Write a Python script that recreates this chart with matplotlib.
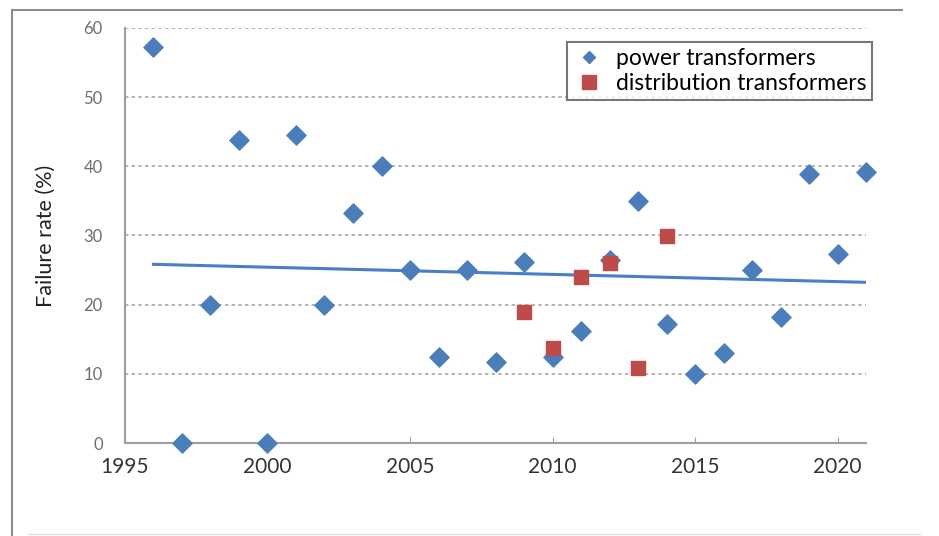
import numpy as np
import matplotlib
matplotlib.use('Agg')
from matplotlib import pyplot as plt
from matplotlib.lines import Line2D

# values
power_years = list(range(1996, 2022))
power_rates = [57.2, 0, 20, 43.8, 0, 44.5, 20, 33.2, 40, 25, 12.4, 25, 11.7,
               26.2, 12.4, 16.2, 26.4, 35, 17.2, 10, 13, 25, 18.2, 38.9, 27.3, 39.2]
dist_years = [2009, 2010, 2011, 2012, 2013, 2014]
dist_rates = [18.9, 13.7, 24, 26, 10.8, 29.9]
x_ticks = [1995, 2000, 2005, 2010, 2015, 2020]
y_ticks = [0, 10, 20, 30, 40, 50, 60]

plt.rcParams['font.family'] = ['Lato', 'DejaVu Sans']

fig = plt.figure(figsize=(9.39, 5.36), dpi=100)
ax = fig.add_axes([0.1331, 0.1735, 0.7892, 0.7743])

# trend line through the power transformer points
slope, icpt = np.polyfit(power_years, power_rates, 1)
fit_x = np.array([power_years[0], power_years[-1]])
ax.plot(fit_x, slope * fit_x + icpt, color='#4A7EC7', lw=2.2, zorder=2)

ax.scatter(power_years, power_rates, marker='D', s=95, color='#4A7EBB',
           zorder=3, clip_on=False, label='power transformers')
ax.scatter(dist_years, dist_rates, marker='s', s=115, color='#BE4B48',
           zorder=4, clip_on=False, label='distribution transformers')

ax.set_xlim(1995, 2021)
ax.set_ylim(0, 60)
ax.set_xticks(x_ticks)
ax.set_yticks(y_ticks)
ax.yaxis.grid(True, linestyle=(0, (2, 2)), color='#A6A6A6', lw=1.2)
ax.set_axisbelow(True)
for s in ['top', 'right']:
    ax.spines[s].set_visible(False)
for s in ['left', 'bottom']:
    ax.spines[s].set_color('#9E9E9E')
    ax.spines[s].set_linewidth(1.5)
ax.tick_params(axis='y', length=0, pad=16, labelsize=12, labelcolor='#6E6E6E')
ax.tick_params(axis='x', direction='in', length=4, color='#9E9E9E',
               pad=10, labelsize=15, labelcolor='#333333')
ax.set_ylabel('Failure rate (%)', fontsize=15.5, color='#222222', labelpad=20)

handles = [Line2D([], [], marker='D', ls='', color='#4A7EBB', markersize=6.5),
           Line2D([], [], marker='s', ls='', color='#BE4B48', markersize=10)]
leg = ax.legend(handles, ['power transformers', 'distribution transformers'],
                loc='upper right', bbox_to_anchor=(0.9290, 0.9220),
                bbox_transform=fig.transFigure, fontsize=16.5, frameon=True,
                fancybox=False, edgecolor='#555555', handletextpad=0.5,
                borderpad=0.25, labelspacing=0.2, handlelength=1.4,
                borderaxespad=0)
leg.get_frame().set_linewidth(1.5)

# outer frame lines of the original figure
fig.add_artist(Line2D([0.0128, 0.0128], [0, 0.981], color='#8C8C8C', lw=1.5))
fig.add_artist(Line2D([0.0128, 0.961], [0.981, 0.981], color='#8C8C8C', lw=1.5))
fig.add_artist(Line2D([0.03, 0.98], [0.004, 0.004], color='#E0E0E0', lw=1))

fig.savefig('out.png', dpi=100)
